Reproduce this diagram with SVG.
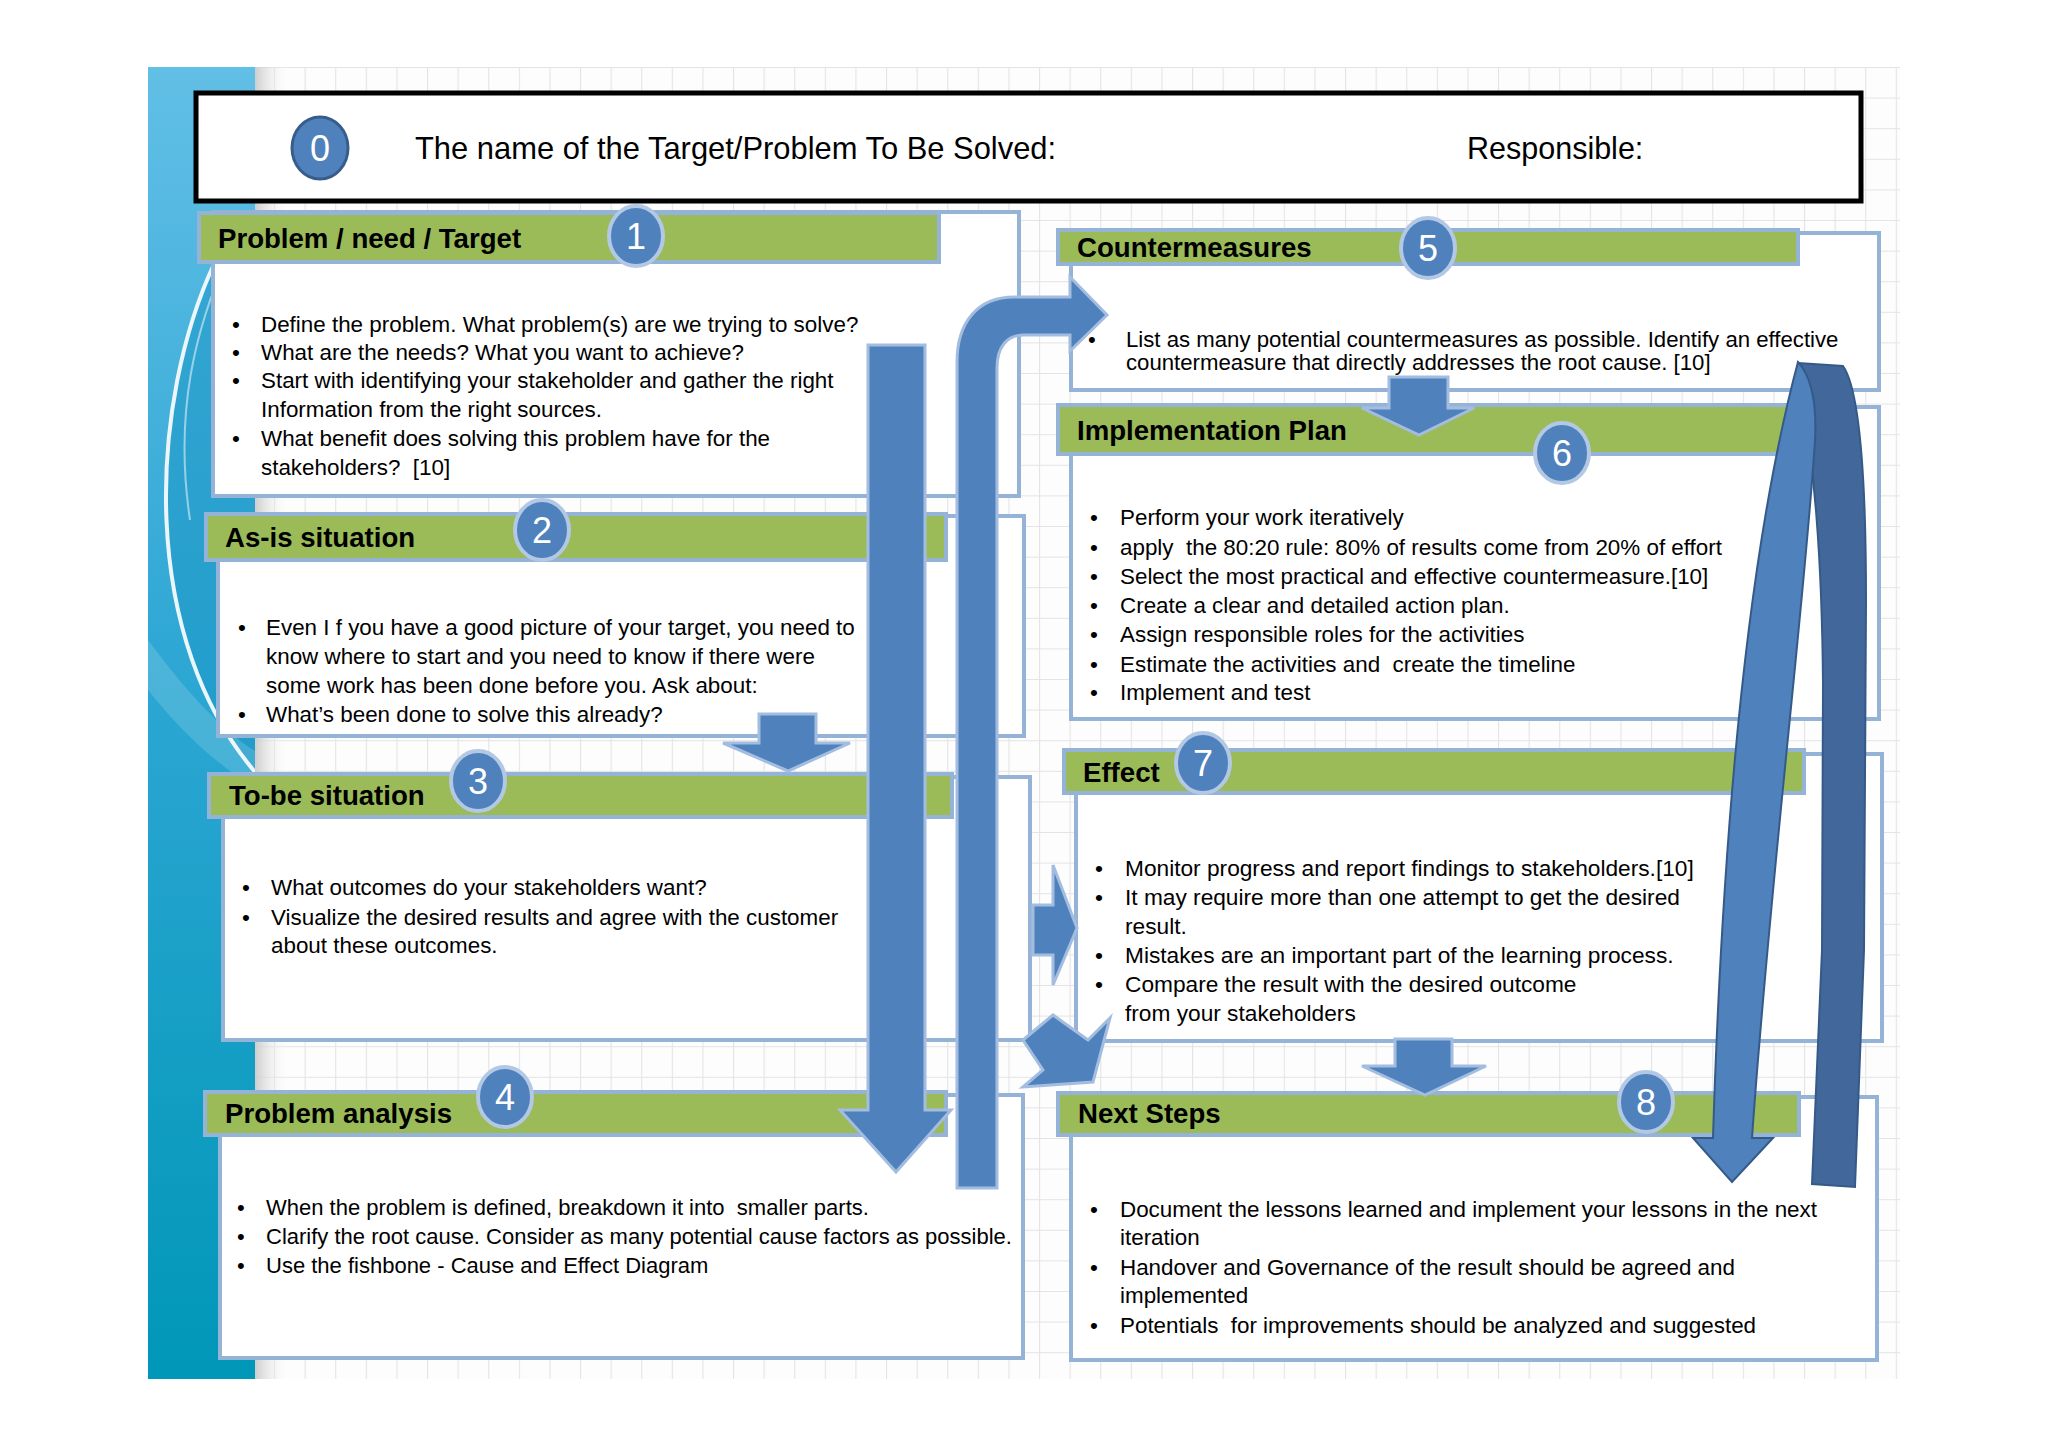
<svg xmlns="http://www.w3.org/2000/svg" width="2048" height="1447" viewBox="0 0 2048 1447">
<defs>
<style>
text{font-family:"Liberation Sans",Arial,sans-serif;white-space:pre;fill:#000}
.box{fill:#fff;stroke:#95b3d7;stroke-width:4}
.hdr{fill:#9bbb59;stroke:#95b3d7;stroke-width:4}
.num{fill:#4f81bd;stroke:#b3c8e4;stroke-width:4}
.ntxt{font-size:36px;fill:#fff;text-anchor:middle}
.htxt{font-size:27.6px;font-weight:bold}
.body{font-size:22.4px}
.small{font-size:22.2px}
.arrow{fill:#4f81bd;stroke:#a3bde0;stroke-width:3;stroke-linejoin:miter}
</style>
<pattern id="grid" x="274" y="67" width="30.6" height="30.6" patternUnits="userSpaceOnUse">
<path d="M0.5 0 V30.6 M0 0.5 H30.6" stroke="#e4e4e4" stroke-width="1.2" fill="none"/>
</pattern>
<linearGradient id="strip" x1="0" y1="0" x2="0" y2="1">
<stop offset="0" stop-color="#62bfe6"/>
<stop offset="0.45" stop-color="#2ea7d4"/>
<stop offset="1" stop-color="#0097b8"/>
</linearGradient>
<linearGradient id="shade" x1="0" y1="0" x2="1" y2="0">
<stop offset="0" stop-color="#c8c8c8" stop-opacity="0.9"/>
<stop offset="1" stop-color="#ffffff" stop-opacity="0"/>
</linearGradient>
<clipPath id="stripClip"><rect x="148" y="67" width="107" height="1312"/></clipPath>
</defs>

<g id="background">
<rect x="0" y="0" width="2048" height="1447" fill="#fff"/>
<rect x="255" y="67" width="1645" height="1312" fill="#fdfdfd"/>
<rect x="255" y="67" width="1645" height="1312" fill="url(#grid)"/>
<rect x="255" y="67" width="35" height="1312" fill="url(#shade)"/>
<rect x="148" y="67" width="107" height="1312" fill="url(#strip)"/>
<g clip-path="url(#stripClip)">
<path d="M215 262 C150 400 135 640 262 780 L262 262 Z" fill="#1d97c6" opacity="0.55"/>
<path d="M148 640 C185 690 225 735 262 755 L262 790 C220 770 180 730 148 690 Z" fill="#ffffff" opacity="0.15"/>
<path d="M215 262 C150 400 135 640 262 780" fill="none" stroke="#ffffff" stroke-width="4" opacity="0.9"/>
<path d="M240 230 C190 330 175 420 190 520" fill="none" stroke="#ffffff" stroke-width="2" opacity="0.5"/>
</g>
</g>

<g id="title">
<rect x="196" y="93" width="1665" height="108" fill="#fff" stroke="#000" stroke-width="5"/>
<ellipse cx="320" cy="148" rx="28" ry="31" fill="#4f81bd" stroke="#385d8a" stroke-width="3"/>
<text class="ntxt" x="320" y="161">0</text>
<text x="415" y="159" style="font-size:30.9px">The name of the Target/Problem To Be Solved:</text>
<text x="1467" y="159" style="font-size:30.5px">Responsible:</text>
</g>

<g id="node1">
<rect class="box" x="213" y="212" width="806" height="284"/>
<rect class="hdr" x="199" y="213" width="740" height="49"/>
<text class="htxt" x="218" y="248">Problem / need / Target</text>
<ellipse class="num" cx="636" cy="236" rx="27" ry="30"/>
<text class="ntxt" x="636" y="249">1</text>
<g class="body">
<text x="232" y="332">•</text><text x="261" y="332">Define the problem. What problem(s) are we trying to solve?</text>
<text x="232" y="360">•</text><text x="261" y="360">What are the needs? What you want to achieve?</text>
<text x="232" y="388">•</text><text x="261" y="388">Start with identifying your stakeholder and gather the right</text>
<text x="261" y="417">Information from the right sources.</text>
<text x="232" y="446">•</text><text x="261" y="446">What benefit does solving this problem have for the</text>
<text x="261" y="475">stakeholders?  [10]</text>
</g>
</g>

<g id="node2">
<rect class="box" x="218" y="516" width="806" height="220"/>
<rect class="hdr" x="206" y="514" width="740" height="46"/>
<text class="htxt" x="225" y="547">As-is situation</text>
<ellipse class="num" cx="542" cy="530" rx="27" ry="30"/>
<text class="ntxt" x="542" y="543">2</text>
<g class="body">
<text x="238" y="635">•</text><text x="266" y="635">Even I f you have a good picture of your target, you need to</text>
<text x="266" y="664">know where to start and you need to know if there were</text>
<text x="266" y="693">some work has been done before you. Ask about:</text>
<text x="238" y="722">•</text><text x="266" y="722">What’s been done to solve this already?</text>
</g>
</g>

<g id="node3">
<rect class="box" x="223" y="777" width="807" height="263"/>
<rect class="hdr" x="209" y="774" width="743" height="43"/>
<text class="htxt" x="229" y="805">To-be situation</text>
<ellipse class="num" cx="478" cy="781" rx="27" ry="30"/>
<text class="ntxt" x="478" y="794">3</text>
<g class="body">
<text x="242" y="895">•</text><text x="271" y="895">What outcomes do your stakeholders want?</text>
<text x="242" y="925">•</text><text x="271" y="925">Visualize the desired results and agree with the customer</text>
<text x="271" y="953">about these outcomes.</text>
</g>
</g>

<g id="node4">
<rect class="box" x="220" y="1095" width="803" height="263"/>
<rect class="hdr" x="205" y="1092" width="741" height="43"/>
<text class="htxt" x="225" y="1123">Problem analysis</text>
<ellipse class="num" cx="505" cy="1097" rx="27" ry="30"/>
<text class="ntxt" x="505" y="1110">4</text>
<g class="body" style="font-size:22px">
<text x="237" y="1215">•</text><text x="266" y="1215">When the problem is defined, breakdown it into  smaller parts.</text>
<text x="237" y="1244">•</text><text x="266" y="1244">Clarify the root cause. Consider as many potential cause factors as possible.</text>
<text x="237" y="1273">•</text><text x="266" y="1273">Use the fishbone - Cause and Effect Diagram</text>
</g>
</g>

<g id="node5">
<rect class="box" x="1071" y="233" width="808" height="157"/>
<rect class="hdr" x="1058" y="230" width="740" height="34"/>
<text class="htxt" x="1077" y="257">Countermeasures</text>
<ellipse class="num" cx="1428" cy="248" rx="27" ry="30"/>
<text class="ntxt" x="1428" y="261">5</text>
<g class="small">
<text x="1088" y="347">•</text><text x="1126" y="347">List as many potential countermeasures as possible. Identify an effective</text>
<text x="1126" y="370">countermeasure that directly addresses the root cause. [10]</text>
</g>
</g>

<g id="node6">
<rect class="box" x="1071" y="407" width="808" height="312"/>
<rect class="hdr" x="1058" y="405" width="740" height="49"/>
<text class="htxt" x="1077" y="440">Implementation Plan</text>
<ellipse class="num" cx="1562" cy="453" rx="27" ry="30"/>
<text class="ntxt" x="1562" y="466">6</text>
<g class="body">
<text x="1090" y="525">•</text><text x="1120" y="525">Perform your work iteratively</text>
<text x="1090" y="555">•</text><text x="1120" y="555">apply  the 80:20 rule: 80% of results come from 20% of effort</text>
<text x="1090" y="584">•</text><text x="1120" y="584">Select the most practical and effective countermeasure.[10]</text>
<text x="1090" y="613">•</text><text x="1120" y="613">Create a clear and detailed action plan.</text>
<text x="1090" y="642">•</text><text x="1120" y="642">Assign responsible roles for the activities</text>
<text x="1090" y="672">•</text><text x="1120" y="672">Estimate the activities and  create the timeline</text>
<text x="1090" y="700">•</text><text x="1120" y="700">Implement and test</text>
</g>
</g>

<g id="node7">
<rect class="box" x="1076" y="754" width="806" height="287"/>
<rect class="hdr" x="1064" y="750" width="740" height="43"/>
<text class="htxt" x="1083" y="782">Effect</text>
<ellipse class="num" cx="1203" cy="763" rx="27" ry="30"/>
<text class="ntxt" x="1203" y="776">7</text>
<g class="body" style="font-size:22.7px">
<text x="1095" y="876">•</text><text x="1125" y="876">Monitor progress and report findings to stakeholders.[10]</text>
<text x="1095" y="905">•</text><text x="1125" y="905">It may require more than one attempt to get the desired</text>
<text x="1125" y="934">result.</text>
<text x="1095" y="963">•</text><text x="1125" y="963">Mistakes are an important part of the learning process.</text>
<text x="1095" y="992">•</text><text x="1125" y="992">Compare the result with the desired outcome</text>
<text x="1125" y="1021">from your stakeholders</text>
</g>
</g>

<g id="node8">
<rect class="box" x="1071" y="1097" width="806" height="263"/>
<rect class="hdr" x="1058" y="1093" width="741" height="42"/>
<text class="htxt" x="1078" y="1123">Next Steps</text>
<ellipse class="num" cx="1646" cy="1102" rx="27" ry="30"/>
<text class="ntxt" x="1646" y="1115">8</text>
<g class="body">
<text x="1090" y="1217">•</text><text x="1120" y="1217">Document the lessons learned and implement your lessons in the next</text>
<text x="1120" y="1245">iteration</text>
<text x="1090" y="1275">•</text><text x="1120" y="1275">Handover and Governance of the result should be agreed and</text>
<text x="1120" y="1303">implemented</text>
<text x="1090" y="1333">•</text><text x="1120" y="1333">Potentials  for improvements should be analyzed and suggested</text>
</g>
</g>

<g id="connectors">
<path class="arrow" d="M868 345 L925 345 L925 1110 L951 1110 L896 1172 L840 1110 L868 1110 Z"/>
<path class="arrow" d="M957 1188 L957 362 C957 322 978 297 1014 297 L1070 297 L1070 277 L1107 315 L1070 351 L1070 335 L1024 335 C1006 335 997 348 997 368 L997 1188 Z"/>
<path class="arrow" d="M759 714 L816 714 L816 743 L850 743 L788 771 L723 743 L759 743 Z"/>
<path class="arrow" d="M1389 377 L1448 377 L1448 408 L1474 408 L1419 435 L1362 408 L1389 408 Z"/>
<path class="arrow" d="M1395 1039 L1452 1039 L1452 1066 L1486 1066 L1425 1095 L1362 1066 L1395 1066 Z"/>
<path class="arrow" d="M1033 905 L1053 905 L1053 865 L1077 928 L1053 985 L1053 955 L1033 955 Z"/>
<path class="arrow" d="M1023 1040 L1053 1015 L1088 1040 L1110 1018 L1093 1082 L1023 1087 L1043 1070 Z"/>
<path d="M1798 363 L1843 366 C1860 390 1866 480 1866 600 L1864 950 L1855 1187 L1812 1184 L1822 950 L1823 684 C1822 560 1815 470 1798 363 Z" fill="#41679b" stroke="#365a88" stroke-width="2"/>
<path d="M1798 362 C1810 375 1817 400 1815 440 C1805 600 1770 880 1752 1138 L1773 1138 L1732 1182 L1693 1138 L1713 1138 C1722 850 1745 560 1798 362 Z" fill="#4f81bd" stroke="#365a88" stroke-width="2"/>
</g>
</svg>
